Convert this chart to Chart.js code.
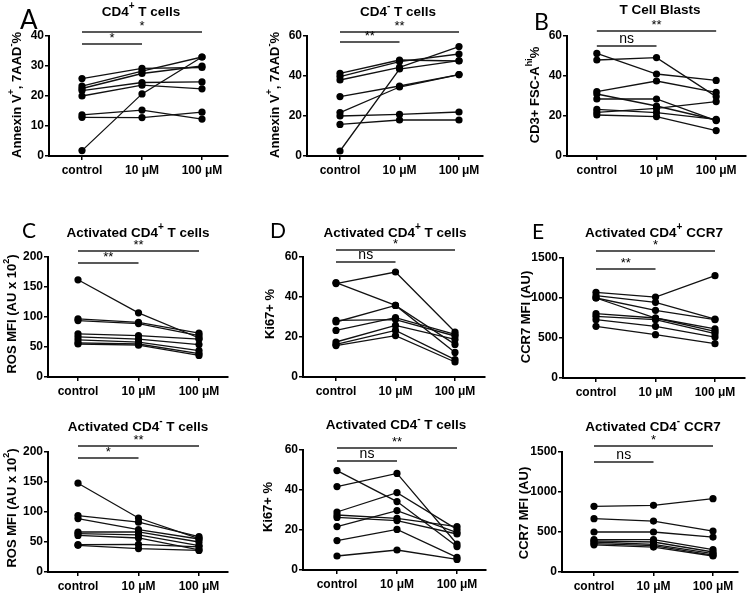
<!DOCTYPE html>
<html><head><meta charset="utf-8">
<script src="https://cdn.jsdelivr.net/npm/chart.js@4/dist/chart.umd.min.js"></script>
<style>
html,body{margin:0;padding:0;background:#fff;}
body{width:750px;height:597px;position:relative;overflow:hidden;}
canvas{position:absolute;}
</style></head>
<body>
<script>
// ---------- DATA ----------
const categories = ['control', '10 \u03bcM', '100 \u03bcM'];

// A (left): Annexin V+, 7AAD- %, CD4+ T cells
const annexPosControl = [25.8, 23.3, 22.5, 21.8, 20.0, 13.7, 12.9, 1.8];
const annexPos10uM    = [29.2, 28.3, 27.5, 24.5, 23.6, 15.3, 12.8, 20.7];
const annexPos100uM   = [29.5, 33.0, 30.0, 24.7, 22.4, 12.3, 14.6, 33.0];
const annexPosTicks   = [0, 10, 20, 30, 40];

// A (right): Annexin V+, 7AAD- %, CD4- T cells
const annexNegControl = [41.3, 39.7, 38.0, 29.7, 21.7, 20.0, 15.8, 2.5];
const annexNeg10uM    = [48.0, 47.2, 44.3, 35.0, 34.5, 20.8, 18.0, 43.5];
const annexNeg100uM   = [47.5, 51.0, 54.7, 40.7, 40.7, 22.0, 18.0, 47.7];
const annexNegTicks   = [0, 20, 40, 60];

// B: T cell blasts, CD3+ FSC-Ahi %
const blastControl = [48.0, 51.3, 32.2, 31.0, 28.5, 23.3, 21.8, 20.5];
const blast10uM    = [49.2, 41.0, 37.5, 25.0, 28.5, 21.7, 23.8, 19.7];
const blast100uM   = [29.7, 37.8, 31.8, 18.0, 17.7, 18.3, 27.2, 12.7];
const blastTicks   = [0, 20, 40, 60];

// C: ROS MFI (AU x 10^2)
const rosPosControl = [162, 97, 94, 72, 67, 62, 57, 55];
const rosPos10uM    = [107, 91, 89, 69, 63, 58, 55, 53];
const rosPos100uM   = [65, 73, 69, 63, 54, 44, 39, 36];
const rosNegControl = [148, 94, 89, 66.7, 64, 61, 45.6, 44.4];
const rosNeg10uM    = [90, 83, 70.5, 66.7, 62, 56.7, 46, 39];
const rosNeg100uM   = [55.6, 59, 55, 50, 44, 37, 42, 36];
const rosTicks      = [0, 50, 100, 150, 200];

// D: Ki67+ %
const kiPosControl = [46.7, 47.2, 28.3, 27.5, 23.3, 17.5, 16.3, 15.7];
const kiPos10uM    = [52.5, 35.8, 28.7, 35.8, 29.7, 25.8, 23.3, 20.7];
const kiPos100uM   = [22.5, 12.3, 20.5, 16.3, 21.3, 18.8, 8.7, 7.5];
const kiNegControl = [49.7, 41.7, 29.0, 27.5, 26.3, 21.7, 14.7, 7.0];
const kiNeg10uM    = [34.2, 48.3, 38.7, 25.8, 24.7, 29.7, 20.3, 10.0];
const kiNeg100uM   = [11.7, 13.0, 20.3, 21.7, 18.0, 18.7, 6.3, 5.3];
const kiTicks      = [0, 20, 40, 60];

// E: CCR7 MFI (AU)
const ccrPosControl = [1071, 1029, 1000, 1000, 804, 771, 729, 646];
const ccrPos10uM    = [1012, 946, 846, 750, 750, 729, 646, 542];
const ccrPos100uM   = [1279, 737, 729, 583, 613, 554, 512, 429];
const ccrNegControl = [821, 667, 500, 404, 390, 375, 354, 340];
const ccrNeg10uM    = [833, 637, 500, 404, 375, 346, 330, 312];
const ccrNeg100uM   = [917, 512, 437, 279, 250, 230, 210, 200];
const ccrTicks      = [0, 500, 1000, 1500];

// ---------- DRAWING ----------
Chart.defaults.font.family = "'Liberation Sans', Arial, sans-serif";
Chart.defaults.color = '#000';

function drawParts(ctx, parts, cx, cy, size) {
  let total = 0;
  parts.forEach(p => {
    ctx.font = 'bold ' + (p[1] ? Math.round(size * 0.72) : size) + 'px "Liberation Sans", Arial, sans-serif';
    p.w = ctx.measureText(p[0]).width; total += p.w;
  });
  let x = cx - total / 2;
  ctx.textAlign = 'left'; ctx.textBaseline = 'middle';
  parts.forEach(p => {
    ctx.font = 'bold ' + (p[1] ? Math.round(size * 0.72) : size) + 'px "Liberation Sans", Arial, sans-serif';
    ctx.fillText(p[0], x, cy - (p[1] ? size * 0.42 : 0));
    x += p.w;
  });
}

const annotPlugin = {
  id: 'annot',
  afterDraw(chart, args, o) {
    const ctx = chart.ctx, ox = o.box[0], oy = o.box[1];
    const xs = chart.scales.x, ca = chart.chartArea;
    ctx.save();
    ctx.fillStyle = '#000';
    o.bars.forEach(b => {
      const x0 = xs.getPixelForValue(0), x1 = xs.getPixelForValue(b.to);
      const y = ca.top + b.off;
      ctx.strokeStyle = '#222'; ctx.lineWidth = 1.3;
      ctx.beginPath(); ctx.moveTo(x0, y); ctx.lineTo(x1, y); ctx.stroke();
      ctx.textAlign = 'center';
      if (b.label === 'ns') {
        ctx.font = '14px "Liberation Sans", Arial, sans-serif';
        ctx.textBaseline = 'alphabetic';
        ctx.fillText('ns', (x0 + x1) / 2, y - 3);
      } else {
        ctx.font = '13px "Liberation Sans", Arial, sans-serif';
        ctx.textBaseline = 'middle';
        ctx.fillText(b.label, (x0 + x1) / 2, y - 6);
      }
    });
    drawParts(ctx, o.title, o.tx - ox, o.ty - oy, 13.5);
    ctx.save();
    ctx.translate(o.lx - ox, o.ly - oy);
    ctx.rotate(-Math.PI / 2);
    drawParts(ctx, o.ylab, 0, 0, 13);
    ctx.restore();
    if (o.letter) {
      ctx.font = o.letter[3] + 'px Lato, "Open Sans", sans-serif';
      ctx.textAlign = 'left'; ctx.textBaseline = 'alphabetic';
      ctx.fillText(o.letter[0], o.letter[1] - ox, o.letter[2] - oy);
    }
    ctx.restore();
  }
};

function panel(cfg) {
  const [bx0, by0, bx1, by1] = cfg.box;
  const W = bx1 - bx0, H = by1 - by0;
  const cv = document.createElement('canvas');
  cv.width = W; cv.height = H;
  cv.style.left = bx0 + 'px'; cv.style.top = by0 + 'px';
  cv.style.width = W + 'px'; cv.style.height = H + 'px';
  document.body.appendChild(cv);
  const [pl, pt, pr, pb] = cfg.plot;
  const u = (cfg.cx[1] - cfg.cx[0]) / 2;
  const xmin = -(cfg.cx[0] - pl) / u, xmax = 2 + (pr - cfg.cx[1]) / u;
  const yt = cfg.yticks;
  const datasets = cfg.ctrl.map((c, i) => ({
    data: [{x: 0, y: c}, {x: 1, y: cfg.low[i]}, {x: 2, y: cfg.high[i]}],
    borderColor: '#111', borderWidth: 1.3, pointRadius: 3.6,
    pointBackgroundColor: '#000', pointBorderColor: '#000', pointBorderWidth: 0,
    tension: 0, clip: false
  }));
  new Chart(cv, {
    type: 'line',
    data: {datasets},
    options: {
      responsive: false, animation: false, devicePixelRatio: 1,
      layout: {padding: {left: 0, top: pt - by0, right: bx1 - pr, bottom: 0}},
      scales: {
        x: {
          type: 'linear', min: xmin, max: xmax,
          afterBuildTicks: s => { s.ticks = [0, 1, 2].map(v => ({value: v})); },
          afterFit: s => { s.height = by1 - pb; },
          ticks: {callback: v => categories[v], font: {size: 12, weight: 'bold'}, color: '#000', padding: 3, maxRotation: 0, autoSkip: false},
          grid: {drawOnChartArea: false, tickLength: 4, color: '#000', lineWidth: 1.5},
          border: {color: '#000', width: 2}
        },
        y: {
          min: yt[0], max: yt[yt.length - 1],
          afterBuildTicks: s => { s.ticks = yt.map(v => ({value: v})); },
          afterFit: s => { s.width = pl - bx0; },
          ticks: {callback: v => String(v), font: {size: 12, weight: 'bold'}, color: '#000', padding: 1},
          grid: {drawOnChartArea: false, tickLength: 4, color: '#000', lineWidth: 1.5},
          border: {color: '#000', width: 2}
        }
      },
      plugins: {
        legend: {display: false}, tooltip: {enabled: false},
        annot: {box: cfg.box, bars: cfg.bars, title: cfg.title, tx: cfg.tpos[0], ty: cfg.tpos[1],
                ylab: cfg.ylab, lx: cfg.lpos[0], ly: cfg.lpos[1], letter: cfg.letter}
      }
    },
    plugins: [annotPlugin]
  });
}

const annexLab = [['Annexin V'], ['+', 1], [', 7AAD'], ['-', 1], ['%']];
const rosLab = [['ROS MFI (AU x 10'], ['2', 1], [')']];
const kiLab = [['Ki67+ %']];
const ccrLab = [['CCR7 MFI (AU)']];

panel({box: [0, 0, 248, 192], plot: [49, 36, 228, 156], cx: [82, 202],
  ctrl: annexPosControl, low: annexPos10uM, high: annexPos100uM, yticks: annexPosTicks,
  bars: [{to: 2, off: -4, label: '*'}, {to: 1, off: 8, label: '*'}],
  title: [['CD4'], ['+', 1], [' T cells']], tpos: [141, 12], ylab: annexLab, lpos: [17, 95],
  letter: ['A', 20, 29, 26]});
panel({box: [250, 0, 498, 192], plot: [307, 36, 483, 156], cx: [340, 459],
  ctrl: annexNegControl, low: annexNeg10uM, high: annexNeg100uM, yticks: annexNegTicks,
  bars: [{to: 2, off: -4, label: '**'}, {to: 1, off: 6, label: '**'}],
  title: [['CD4'], ['-', 1], [' T cells']], tpos: [398, 12], ylab: annexLab, lpos: [275, 95]});
panel({box: [500, 0, 750, 192], plot: [567, 36, 747, 156], cx: [597, 717],
  ctrl: blastControl, low: blast10uM, high: blast100uM, yticks: blastTicks,
  bars: [{to: 2, off: -5, label: '**'}, {to: 1, off: 10, label: 'ns'}],
  title: [['T Cell Blasts']], tpos: [660, 10], ylab: [['CD3+ FSC-A'], ['hi', 1], ['%']], lpos: [535, 95],
  letter: ['B', 534, 30, 23]});

panel({box: [0, 190, 248, 398], plot: [48, 257, 228, 377], cx: [78, 199],
  ctrl: rosPosControl, low: rosPos10uM, high: rosPos100uM, yticks: rosTicks,
  bars: [{to: 2, off: -6, label: '**'}, {to: 1, off: 6, label: '**'}],
  title: [['Activated CD4'], ['+', 1], [' T cells']], tpos: [138, 233], ylab: rosLab, lpos: [12, 314],
  letter: ['C', 22, 238, 21]});
panel({box: [250, 190, 498, 398], plot: [303, 257, 485, 377], cx: [336, 455],
  ctrl: kiPosControl, low: kiPos10uM, high: kiPos100uM, yticks: kiTicks,
  bars: [{to: 2, off: -7, label: '*'}, {to: 1, off: 5, label: 'ns'}],
  title: [['Activated CD4'], ['+', 1], [' T cells']], tpos: [395, 233], ylab: kiLab, lpos: [270, 314],
  letter: ['D', 270, 238, 21]});
panel({box: [500, 190, 750, 398], plot: [563, 258, 745, 378], cx: [596, 715],
  ctrl: ccrPosControl, low: ccrPos10uM, high: ccrPos100uM, yticks: ccrTicks,
  bars: [{to: 2, off: -7, label: '*'}, {to: 1, off: 11, label: '**'}],
  title: [['Activated CD4'], ['+', 1], [' CCR7']], tpos: [654, 233], ylab: ccrLab, lpos: [526, 317],
  letter: ['E', 532, 239, 21]});

panel({box: [0, 400, 248, 597], plot: [48, 452, 228, 572], cx: [78, 199],
  ctrl: rosNegControl, low: rosNeg10uM, high: rosNeg100uM, yticks: rosTicks,
  bars: [{to: 2, off: -6, label: '**'}, {to: 1, off: 6, label: '*'}],
  title: [['Activated CD4'], ['-', 1], [' T cells']], tpos: [138, 427], ylab: rosLab, lpos: [12, 508]});
panel({box: [250, 400, 498, 597], plot: [303, 450, 486, 570], cx: [337, 457],
  ctrl: kiNegControl, low: kiNeg10uM, high: kiNeg100uM, yticks: kiTicks,
  bars: [{to: 2, off: -2, label: '**'}, {to: 1, off: 11, label: 'ns'}],
  title: [['Activated CD4'], ['-', 1], [' T cells']], tpos: [396, 425], ylab: kiLab, lpos: [268, 507]});
panel({box: [500, 400, 750, 597], plot: [562, 452, 738, 572], cx: [594, 713],
  ctrl: ccrNegControl, low: ccrNeg10uM, high: ccrNeg100uM, yticks: ccrTicks,
  bars: [{to: 2, off: -6, label: '*'}, {to: 1, off: 10, label: 'ns'}],
  title: [['Activated CD4'], ['-', 1], [' CCR7']], tpos: [653, 427], ylab: ccrLab, lpos: [524, 513]});
</script>
</body></html>
